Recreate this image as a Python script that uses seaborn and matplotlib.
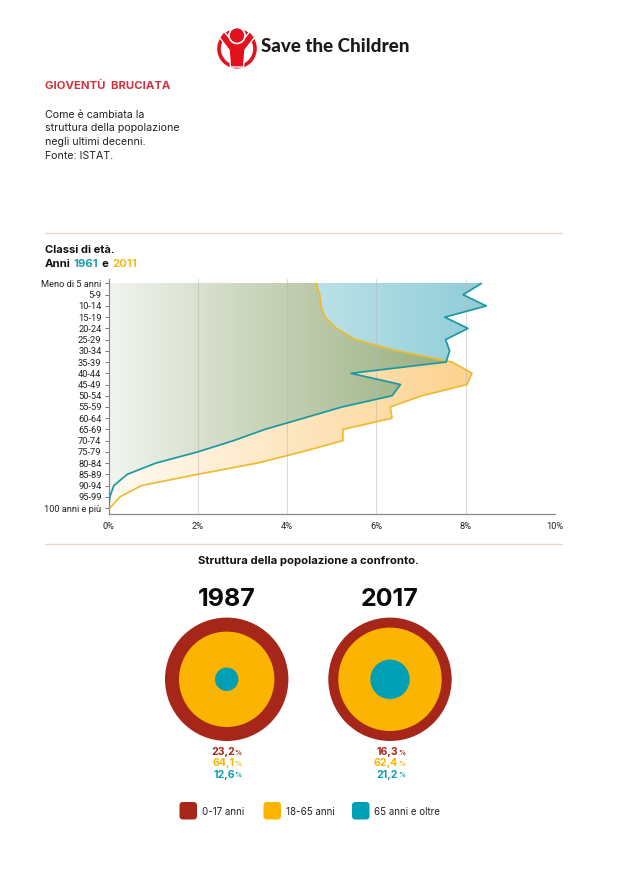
import numpy as np
import pandas as pd
import matplotlib
matplotlib.use("Agg")
import matplotlib.pyplot as plt
from matplotlib.patches import Circle, Polygon, FancyBboxPatch
import seaborn as sns

age_classes = ["Meno di 5 anni", "5-9", "10-14", "15-19", "20-24", "25-29", "30-34", "35-39", "40-44", "45-49",
               "50-54", "55-59", "60-64", "65-69", "70-74", "75-79", "80-84", "85-89", "90-94", "95-99", "100 anni e più"]
pop_1961 = [8.35, 7.94, 8.46, 7.53, 8.05, 7.55, 7.64, 7.56, 5.43, 6.54, 6.35,
            5.23, 4.37, 3.50, 2.80, 2.00, 1.06, 0.42, 0.12, 0.03, 0.00]
pop_2011 = [4.65, 4.73, 4.76, 4.85, 5.10, 5.53, 6.46, 7.70, 8.14, 8.03, 7.02,
            6.31, 6.35, 5.25, 5.25, 4.33, 3.33, 2.00, 0.74, 0.26, 0.03]
x_ticks = [0, 2, 4, 6, 8, 10]
years = ["1987", "2017"]
share_young = ["23,2", "16,3"]
share_adult = ["64,1", "62,4"]
share_old = ["12,6", "21,2"]
legend_labels = ["0-17 anni", "18-65 anni", "65 anni e oltre"]

RED, YEL, TEAL = "#A6271A", "#FBB400", "#009FB3"
FONT = ["Inter", "DejaVu Sans"]
TICKFONT = ["Roboto", "DejaVu Sans"]

sns.set_theme(style="white")
plt.rcParams["font.family"] = FONT
W, H = 630, 889
fig = plt.figure(figsize=(W / 100, H / 100), dpi=100, facecolor="white")

# page layer in pixel coordinates
pg = fig.add_axes([0, 0, 1, 1], zorder=0)
pg.set_xlim(0, W); pg.set_ylim(H, 0); pg.axis("off")

# chart layer
L, R, T, B = 108.5, 555.0, 279.0, 514.0
ax = fig.add_axes([L / W, 1 - B / H, (R - L) / W, (B - T) / H], zorder=1)
ax.patch.set_alpha(0)

pos = np.arange(len(age_classes))
xg = np.linspace(0, 9, 2400)
yg = np.linspace(0, pos[-1], 1400)
XX, YY = np.meshgrid(xg, yg)
m_t = XX <= np.interp(YY, pos, pop_1961)
m_y = XX <= np.interp(YY, pos, pop_2011)
t_teal = np.clip(0.12 + 0.88 * XX / 8.4, 0, 1)[..., None]
t_yel = np.clip(0.10 + 0.90 * XX / 8.0, 0, 1)[..., None]
teal_rgb = 1 - t_teal * (1 - np.array([143, 205, 216]) / 255)
yel_rgb = 1 - t_yel * (1 - np.array([253, 211, 143]) / 255)
rgb = np.ones(XX.shape + (3,))
rgb = np.where(m_t[..., None], rgb * teal_rgb, rgb)
rgb = np.where(m_y[..., None], rgb * yel_rgb, rgb)
alpha = (m_t | m_y).astype(float)
ax.imshow(np.dstack([rgb, alpha]), extent=(0, 9, pos[-1], 0), aspect="auto", zorder=1, interpolation="antialiased")

for v in x_ticks[1:]:
    ax.axvline(v, color="#B9B9B9", lw=0.8, alpha=0.5, zorder=2)

df = pd.DataFrame({"pos": pos, "y1961": pop_1961, "y2011": pop_2011})
sns.lineplot(data=df, x="y2011", y="pos", orient="y", sort=False, color="#EDBB2F", lw=1.25, ax=ax, zorder=3)
sns.lineplot(data=df, x="y1961", y="pos", orient="y", sort=False, color="#1C98A5", lw=1.25, ax=ax, zorder=4)

ax.set_xlim(0, 10)
ax.set_ylim((B - 283.5) / ((508 - 283.5) / 20), (T - 283.5) / ((508 - 283.5) / 20))
ax.set_xlabel(""); ax.set_ylabel("")
ax.set_yticks(pos, age_classes, family=TICKFONT)
ax.set_xticks(x_ticks, [f"{v}%" for v in x_ticks], family=TICKFONT)
ax.tick_params(axis="y", length=3, width=0.7, color="#777777", pad=2, labelsize=6.7, labelcolor="#222222", left=True)
ax.tick_params(axis="x", length=0, pad=6, labelsize=6.7, labelcolor="#222222")
for s in ["top", "right"]:
    ax.spines[s].set_visible(False)
for s in ["left", "bottom"]:
    ax.spines[s].set_color("#8A8A8A"); ax.spines[s].set_linewidth(0.9)

# header text
pg.text(45, 86, "GIOVENTÙ  BRUCIATA", color="#CE3340", fontsize=8.2, fontweight="bold", va="center")
for i, line in enumerate(["Come è cambiata la", "struttura della popolazione", "negli ultimi decenni.", "Fonte: ISTAT."]):
    pg.text(45, 114.5 + i * 13.7, line, color="#222222", fontsize=7.65, va="center")

for y in (233, 544):
    pg.plot([45, 562], [y, y], color="#F2D6D0", lw=1)

pg.text(45, 250, "Classi di età.", color="#111111", fontsize=8, fontweight="bold", va="center")
for x, s, c in [(45, "Anni", "#111111"), (73.5, "1961", "#1C9DB0"), (102, "e", "#111111"), (112, "2011", "#F2B822")]:
    pg.text(x, 264, s, color=c, fontsize=8.2, fontweight="bold", va="center")

pg.text(308.5, 560.5, "Struttura della popolazione a confronto.", color="#111111", fontsize=8.1, fontweight="bold",
        ha="center", va="center")

# logo
LOGO = "#E2111D"
pg.add_patch(Circle((237, 48.7), 18.0, fill=False, ec=LOGO, lw=2.6))
pg.add_patch(Polygon([(219.5, 37.5), (224, 31.5), (233, 42), (241, 42), (250, 31.5), (254.5, 37.5), (245, 50), (243.5, 67),
                      (230.5, 67), (229, 50)], closed=True, fc=LOGO, ec="white", lw=1.0, zorder=3))
pg.add_patch(Circle((237, 35.5), 8.0, fc=LOGO, ec="white", lw=1.2, zorder=4))
pg.text(261, 47, "Save the Children", color="#1B1B1B", fontsize=13.5, fontweight="black",
        family=["Lato", "DejaVu Sans"], va="center")

# ring charts
centres = [226.7, 390.0]
radii = [(61.7, 47.7, 11.7), (61.7, 51.7, 19.7)]
for cx, yr, (r1, r2, r3), a, b, c in zip(centres, years, radii, share_young, share_adult, share_old):
    pg.text(cx, 600, yr, color="#0A0A0A", fontsize=18, fontweight="bold", ha="center", va="center")
    for r, col in zip((r1, r2, r3), (RED, YEL, TEAL)):
        pg.add_patch(Circle((cx, 679.3), r, fc=col, ec="none"))
    for y, s, col in zip((752, 763.3, 774.5), (a, b, c), (RED, YEL, "#0D9FB5")):
        pg.text(cx + 8, y, s, color=col, fontsize=7.6, fontweight="bold", ha="right", va="center")
        pg.text(cx + 8.0, y + 0.6, "%", color=col, fontsize=5, fontweight="bold", ha="left", va="center")

# legend
for x0, lab, col in zip((179.5, 263.5, 352), legend_labels, (RED, YEL, TEAL)):
    pg.add_patch(FancyBboxPatch((x0 + 3, 805), 11.5, 11.5, boxstyle="round,pad=3,rounding_size=3.5", fc=col, ec="none"))
    pg.text(x0 + 22.5, 812, lab, color="#222222", fontsize=7.0, va="center")

fig.savefig("out.png", dpi=100, facecolor="white")
